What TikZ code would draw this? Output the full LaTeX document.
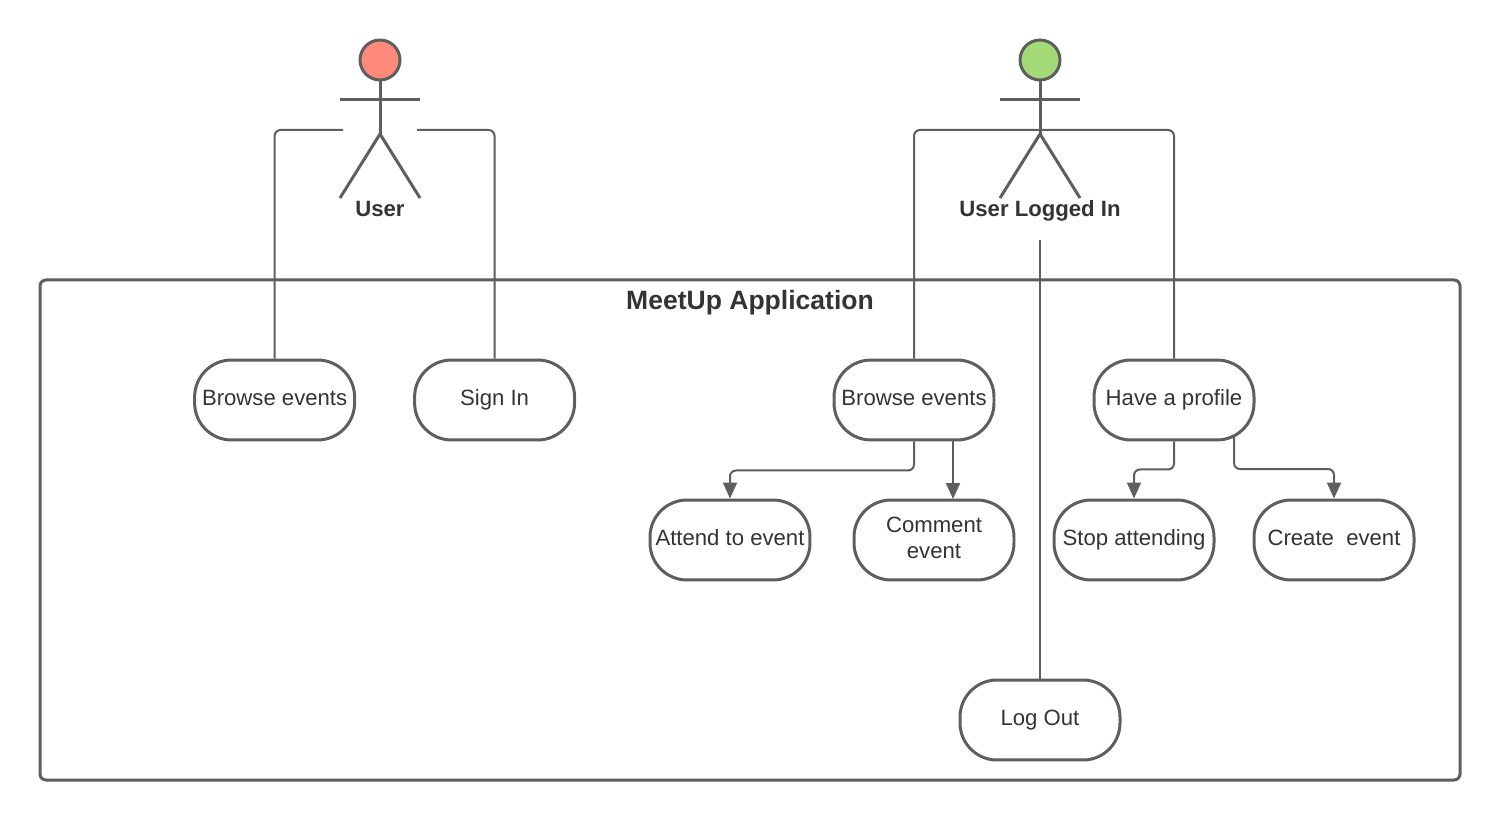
\documentclass[tikz,border=0pt]{standalone}
\usepackage{fontspec}
\setmainfont{Liberation Sans}
\usetikzlibrary{arrows.meta}
\definecolor{linegray}{HTML}{5E5E5E}
\definecolor{textgray}{HTML}{333333}
\definecolor{userred}{HTML}{FF8A7A}
\definecolor{loggedgreen}{HTML}{A3D977}
\tikzset{
  usecase/.style={draw=linegray,line width=0.06cm,rounded corners=0.74cm,minimum width=3.2cm,minimum height=1.6cm,inner sep=0pt,align=center,text=textgray,font=\fontsize{12.6}{14.8}\selectfont},
  oneline/.style={usecase,text height=0.32cm,text depth=0.10cm},
  actorhead/.style={draw=linegray,line width=0.06cm,circle,minimum size=0.8cm,inner sep=0pt},
  actorname/.style={text=textgray,text height=0.32cm,text depth=0.06cm,inner sep=0pt,font=\fontsize{12.6}{14.8}\selectfont\bfseries},
  wire/.style={draw=linegray,line width=0.04cm,rounded corners=0.12cm},
}
\begin{document}
\begin{tikzpicture}[>={Triangle[length=0.32cm,width=0.28cm]},x=0.02cm,y=-0.02cm]
\useasboundingbox (0,0) rectangle (1500,820);
\draw[draw=linegray,line width=0.06cm,rounded corners=0.12cm] (40,280) rectangle (1460,780);
\node[text=textgray,font=\fontsize{15.1}{18}\selectfont\bfseries] (apptitle) at (750,303) {MeetUp Application};
% actors
\foreach \ax/\acol/\aname/\atext in {380/userred/user/User,1040/loggedgreen/logged/User Logged In}{
  \node[actorhead,fill=\acol] (\aname head) at (\ax,60) {};
  \draw[linegray,line width=0.06cm] (\aname head.south) -- (\ax,134);
  \draw[linegray,line width=0.06cm] (\ax-40,99.5) -- (\ax+40,99.5);
  \draw[linegray,line width=0.06cm] (\ax-40,198) -- (\ax,134) -- (\ax+40,198);
  \node[actorname] (\aname label) at (\ax,210) {\atext};
}
% use cases
\node[oneline] (browseA) at (274.6,400) {Browse events};
\node[oneline] (signin) at (494.6,400) {Sign In};
\node[oneline] (browseB) at (914,400) {Browse events};
\node[oneline] (profile) at (1174,400) {Have a profile};
\node[oneline] (attend) at (730,540) {Attend to event};
\node[usecase] (comment) at (934,540) {Comment\\event\rule[-0.08cm]{0pt}{0pt}};
\node[oneline] (stop) at (1134,540) {Stop attending};
\node[oneline] (create) at (1334,540) {Create~ event};
\node[oneline] (logout) at (1040,720) {Log Out};
% free ends
\coordinate (userleft) at (343,130);
\coordinate (userright) at (417,130);
\coordinate (loggedjoin) at (1040,130);
\coordinate (loggedend) at (1040,240);
% connectors
\draw[wire] (browseA.north) |- (userleft);
\draw[wire] (signin.north) |- (userright);
\draw[wire] (browseB.north) |- (loggedjoin);
\draw[wire] (profile.north) |- (loggedjoin);
\draw[wire] (logout.north) -- (loggedend);
\draw[wire,->] (browseB.south) -- ++(0,29) -| (attend.north);
\draw[wire,->] (953,440) -- (953,499);
\draw[wire,->] (profile.south) -- ++(0,28) -| (stop.north);
\draw[wire,->] (1234,436) -- (1234,469) -| (create.north);
\end{tikzpicture}
\end{document}
